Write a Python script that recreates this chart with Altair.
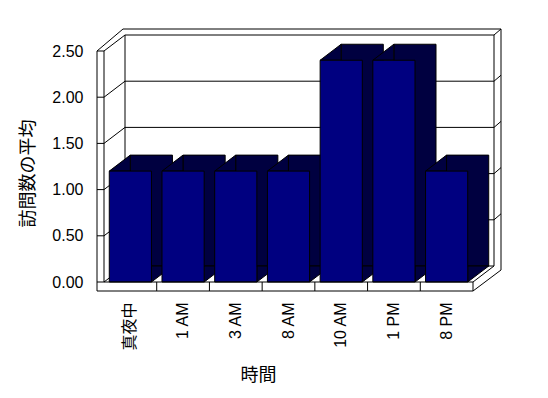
import altair as alt
import pandas as pd

# ---- data ----
categories = ["真夜中", "1 AM", "3 AM", "8 AM", "10 AM", "1 PM", "8 PM"]
values = [1.2, 1.2, 1.2, 1.2, 2.4, 2.4, 1.2]
tick_values = [0.0, 0.5, 1.0, 1.5, 2.0, 2.5]
y_title = "訪問数の平均"
x_title = "時間"

# ---- geometry / style constants ----
W, H = 369, 231          # plot (front plane) size
DX, DY = 21, -16         # 3D depth offset
T = 7                    # wall thickness
FT = 9                   # floor thickness
P_IN, P_OUT = 0.2, 0.1
STEP = W / (len(categories) - P_IN + 2 * P_OUT)
FRONT = "#000080"
SIDE = "#000040"
LATIN = "Liberation Sans, Noto Sans CJK JP"
CJK = "Noto Sans CJK JP, Liberation Sans"

bars = pd.DataFrame({"cat": categories, "v": values})
ticks = pd.DataFrame({"v": tick_values})
one = pd.DataFrame({"k": [0]})

xscale = alt.Scale(type="band", domain=categories, paddingInner=P_IN, paddingOuter=P_OUT)
yscale = alt.Scale(domain=[0, 2.5], nice=False, zero=True)

xaxis = alt.Axis(title=x_title, labelAngle=-90, domain=False, ticks=False, grid=False,
                 labelPadding=20, labelFontSize=16, labelFont=LATIN, labelColor="black",
                 titleFont=CJK, titleFontSize=18, titleFontWeight="normal", titleColor="black",
                 titleX=154, titleY=93, titleAlign="center", titleBaseline="middle")
yaxis = alt.Axis(title=y_title, values=tick_values, format=".2f", domain=False, ticks=False,
                 grid=False, labelPadding=21, labelFontSize=16, labelFont=LATIN,
                 labelColor="black", titleFont=CJK, titleFontSize=18,
                 titleFontWeight="normal", titleColor="black", titleAngle=270,
                 titleX=-76, titleY=122, titleAlign="center", titleBaseline="middle")

X = lambda **kw: alt.X("cat:N", scale=xscale, axis=xaxis, **kw)
Y = lambda: alt.Y("v:Q", scale=yscale, axis=yaxis)


def seg(x1, y1, x2, y2):
    return alt.Chart(one).mark_rule(color="black", strokeWidth=1).encode(
        x=alt.value(x1), x2=alt.value(x2), y=alt.value(y1), y2=alt.value(y2))


# back wall gridlines
grid_back = alt.Chart(ticks).mark_rule(color="black", strokeWidth=1, yOffset=DY).encode(
    x=alt.value(DX), x2=alt.value(W + DX), y=Y())
# left wall diagonals
left_diag = alt.Chart(ticks).mark_rule(color="black", strokeWidth=1, y2Offset=DY).encode(
    x=alt.value(0), x2=alt.value(DX), y=Y(), y2=alt.Y2("v:Q"))
# right wall small diagonals
right_diag = alt.Chart(ticks[ticks.v > 0]).mark_rule(
    color="black", strokeWidth=1, yOffset=DY, y2Offset=DY - 6).encode(
    x=alt.value(W + DX), x2=alt.value(W + DX + T), y=Y(), y2=alt.Y2("v:Q"))
# front wall ticks
front_ticks = alt.Chart(ticks).mark_rule(color="black", strokeWidth=1).encode(
    x=alt.value(-T), x2=alt.value(0), y=Y())

frame_back = [
    seg(DX, DY, DX, H + DY),                       # back wall left edge
    seg(W + DX, DY, W + DX, H + DY),               # right wall inner
    seg(W + DX + T, DY - 6, W + DX + T, H + DY + 4),  # right wall outer
    seg(-T, 0, DX - 2, DY - 6),                    # outer top-left diagonal
    seg(DX - 2, DY - 6, W + DX + T, DY - 6),       # outer top line
    seg(W, H, W + DX, H + DY),                     # floor inner diagonal
    seg(W, H + FT, W + DX + T, H + DY + 4),        # floor outer diagonal
]

# bars
back_rect = alt.Chart(bars).mark_bar(
    fill=SIDE, stroke="black", strokeWidth=1, xOffset=DX, x2Offset=DX,
    yOffset=DY, y2Offset=DY).encode(x=X(), y=Y())
top_tri = alt.Chart(bars).mark_point(
    shape="M0,0L2.1,-1.6L2.1,0Z", size=400, filled=True, fill=SIDE,
    stroke="black", strokeWidth=1, opacity=1).encode(x=X(bandPosition=0), y=Y())
bot_tri = alt.Chart(bars).mark_point(
    shape="M0,0L0,-1.6L2.1,-1.6Z", size=400, filled=True, fill=SIDE,
    stroke="black", strokeWidth=1, opacity=1).encode(x=X(bandPosition=1), y=alt.value(H))
front_rect = alt.Chart(bars).mark_bar(
    fill=FRONT, stroke="black", strokeWidth=1).encode(x=X(), y=Y())

# floor front slab separators
sep = alt.Chart(bars[bars.cat != categories[-1]]).mark_rule(
    color="black", strokeWidth=1, xOffset=P_OUT * STEP).encode(
    x=X(bandPosition=1), y=alt.value(H), y2=alt.value(H + FT))

frame_front = [
    seg(-T, 0, -T, H + FT),       # left wall outer
    seg(0, 0, 0, H),              # left wall inner
    seg(0, H, W, H),              # floor top edge
    seg(-T, H + FT, W, H + FT),   # floor bottom edge
    seg(W, H, W, H + FT),         # floor right edge
]

chart = alt.layer(
    grid_back, left_diag, right_diag, *frame_back,
    back_rect, top_tri, bot_tri, front_rect,
    front_ticks, sep, *frame_front,
).properties(
    width=W, height=H,
    autosize=alt.AutoSizeParams(type="none"),
    padding={"left": 104, "top": 51, "right": 75, "bottom": 116},
    background="white",
).configure_view(stroke=None)

chart.save("out.html", embed_options={"renderer": "svg", "actions": False})
